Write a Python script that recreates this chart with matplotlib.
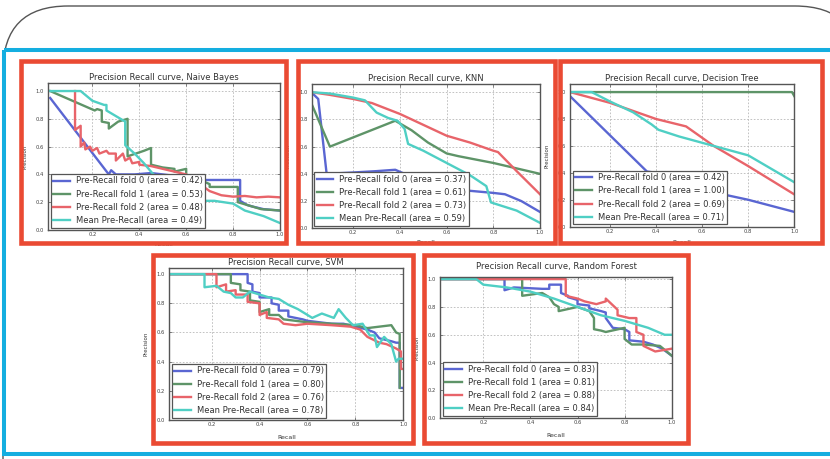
import matplotlib
matplotlib.use('Agg')
import matplotlib.pyplot as plt
from matplotlib.patches import Rectangle, FancyBboxPatch
from matplotlib.transforms import Affine2D

# ---- data (recall, precision) ----
nb_r0 = [0.02, 0.27, 0.28, 0.30, 0.38, 0.45, 0.55, 0.62, 0.67, 0.83, 0.83, 0.86, 0.88, 0.93, 1.00]
nb_p0 = [0.95, 0.40, 0.43, 0.40, 0.40, 0.41, 0.39, 0.37, 0.36, 0.36, 0.21, 0.18, 0.17, 0.15, 0.14]
nb_r1 = [0.02, 0.21, 0.22, 0.24, 0.24, 0.27, 0.27, 0.31, 0.35, 0.35, 0.42, 0.45, 0.45, 0.50, 0.55, 0.55,
         0.60, 0.60, 0.66, 0.70, 0.70, 0.82, 0.82, 0.88, 0.92, 1.00]
nb_p1 = [1.00, 0.86, 0.87, 0.86, 0.78, 0.77, 0.73, 0.78, 0.80, 0.53, 0.57, 0.59, 0.47, 0.45, 0.44, 0.42,
         0.44, 0.38, 0.36, 0.33, 0.31, 0.31, 0.20, 0.17, 0.15, 0.14]
nb_r2 = [0.126, 0.126, 0.15, 0.15, 0.165, 0.17, 0.19, 0.20, 0.22, 0.23, 0.26, 0.27, 0.30, 0.30, 0.33, 0.34,
         0.36, 0.37, 0.40, 0.40, 0.45, 0.50, 0.55, 0.60, 0.65, 0.70, 0.75, 0.80, 0.85, 0.90, 0.95, 1.00]
nb_p2 = [1.00, 0.72, 0.75, 0.60, 0.63, 0.58, 0.60, 0.57, 0.59, 0.55, 0.57, 0.55, 0.55, 0.50, 0.55, 0.50,
         0.52, 0.48, 0.49, 0.47, 0.46, 0.44, 0.42, 0.40, 0.34, 0.28, 0.25, 0.24, 0.245, 0.235, 0.24, 0.235]
nb_rm = [0.02, 0.15, 0.20, 0.25, 0.26, 0.26, 0.32, 0.34, 0.34, 0.38, 0.42, 0.46, 0.55, 0.62, 0.68, 0.72,
         0.80, 0.85, 0.93, 1.00]
nb_pm = [1.00, 1.00, 0.93, 0.90, 0.90, 0.86, 0.80, 0.78, 0.61, 0.55, 0.48, 0.40, 0.33, 0.27, 0.21, 0.21,
         0.19, 0.14, 0.10, 0.05]

knn_r0 = [0.02, 0.05, 0.086, 0.20, 0.30, 0.38, 0.42, 0.50, 0.60, 0.67, 0.80, 0.85, 0.92, 1.00]
knn_p0 = [1.00, 0.95, 0.40, 0.41, 0.42, 0.43, 0.40, 0.35, 0.30, 0.28, 0.26, 0.25, 0.20, 0.12]
knn_r1 = [0.02, 0.10, 0.38, 0.45, 0.52, 0.60, 0.65, 0.80, 1.00]
knn_p1 = [0.92, 0.60, 0.79, 0.72, 0.63, 0.55, 0.53, 0.48, 0.40]
knn_r2 = [0.02, 0.10, 0.20, 0.28, 0.40, 0.50, 0.60, 0.70, 0.80, 0.82, 0.90, 1.00]
knn_p2 = [1.00, 0.98, 0.95, 0.92, 0.84, 0.76, 0.68, 0.63, 0.57, 0.56, 0.42, 0.25]
knn_rm = [0.02, 0.10, 0.20, 0.25, 0.30, 0.35, 0.39, 0.42, 0.435, 0.50, 0.60, 0.70, 0.77, 0.79, 0.90, 1.00]
knn_pm = [1.00, 0.99, 0.96, 0.94, 0.85, 0.81, 0.79, 0.73, 0.62, 0.57, 0.48, 0.39, 0.31, 0.19, 0.13, 0.04]

dt_r0 = [0.026, 0.36, 0.40, 0.61, 0.80, 1.00]
dt_p0 = [0.97, 0.41, 0.40, 0.27, 0.20, 0.11]
dt_r1 = [0.026, 0.99, 1.00]
dt_p1 = [1.00, 1.00, 0.97]
dt_r2 = [0.026, 0.20, 0.40, 0.53, 0.65, 0.80, 1.00]
dt_p2 = [1.00, 0.92, 0.80, 0.745, 0.60, 0.45, 0.24]
dt_rm = [0.026, 0.12, 0.20, 0.30, 0.38, 0.41, 0.50, 0.65, 0.80, 1.00]
dt_pm = [1.00, 1.00, 0.93, 0.85, 0.76, 0.72, 0.67, 0.60, 0.53, 0.33]

svm_r0 = [0.02, 0.35, 0.35, 0.37, 0.37, 0.40, 0.40, 0.45, 0.45, 0.48, 0.48, 0.52, 0.52, 0.58, 0.60, 0.65,
          0.70, 0.75, 0.80, 0.85, 0.88, 0.90, 0.95, 0.97, 0.985, 0.985, 1.00]
svm_p0 = [1.00, 1.00, 0.94, 0.93, 0.88, 0.87, 0.84, 0.84, 0.80, 0.79, 0.75, 0.75, 0.71, 0.69, 0.68, 0.67,
          0.66, 0.66, 0.64, 0.62, 0.60, 0.56, 0.54, 0.53, 0.53, 0.22, 0.22]
svm_r1 = [0.02, 0.28, 0.28, 0.32, 0.32, 0.36, 0.36, 0.40, 0.40, 0.44, 0.44, 0.48, 0.50, 0.55, 0.60, 0.70,
          0.80, 0.85, 0.90, 0.95, 0.97, 0.985, 0.985]
svm_p1 = [1.00, 1.00, 0.94, 0.93, 0.89, 0.88, 0.82, 0.81, 0.74, 0.76, 0.72, 0.72, 0.69, 0.68, 0.67, 0.66,
          0.65, 0.63, 0.64, 0.65, 0.60, 0.59, 0.22]
svm_r2 = [0.02, 0.22, 0.22, 0.26, 0.26, 0.30, 0.30, 0.35, 0.35, 0.40, 0.40, 0.43, 0.43, 0.48, 0.50, 0.55,
          0.60, 0.70, 0.78, 0.82, 0.85, 0.90, 0.93, 0.97, 0.99, 0.99, 1.00]
svm_p2 = [1.00, 1.00, 0.91, 0.93, 0.88, 0.89, 0.86, 0.86, 0.81, 0.80, 0.72, 0.74, 0.70, 0.69, 0.66, 0.65,
          0.66, 0.65, 0.64, 0.62, 0.57, 0.53, 0.52, 0.49, 0.47, 0.35, 0.35]
svm_rm = [0.02, 0.17, 0.17, 0.22, 0.25, 0.28, 0.30, 0.33, 0.36, 0.40, 0.44, 0.48, 0.52, 0.56, 0.62, 0.66,
          0.71, 0.73, 0.76, 0.79, 0.83, 0.86, 0.88, 0.89, 0.92, 0.95, 0.97, 0.98, 1.00]
svm_pm = [1.00, 1.00, 0.91, 0.92, 0.88, 0.87, 0.84, 0.84, 0.88, 0.86, 0.84, 0.83, 0.79, 0.76, 0.70, 0.73,
          0.70, 0.76, 0.70, 0.65, 0.66, 0.58, 0.58, 0.50, 0.57, 0.52, 0.40, 0.42, 0.42]

rf_r0 = [0.015, 0.29, 0.29, 0.33, 0.45, 0.48, 0.48, 0.53, 0.53, 0.56, 0.56, 0.60, 0.60, 0.65, 0.65, 0.70,
         0.72, 0.72, 0.75, 0.80, 0.82, 0.82, 0.88, 0.92, 0.96, 1.00]
rf_p0 = [1.00, 1.00, 0.92, 0.94, 0.93, 0.93, 0.96, 0.96, 0.90, 0.88, 0.87, 0.85, 0.82, 0.81, 0.79, 0.77,
         0.76, 0.72, 0.65, 0.64, 0.62, 0.56, 0.55, 0.53, 0.50, 0.45]
rf_r1 = [0.015, 0.365, 0.365, 0.45, 0.48, 0.50, 0.52, 0.52, 0.60, 0.65, 0.67, 0.67, 0.70, 0.72, 0.80, 0.80,
         0.83, 0.88, 0.95, 1.00]
rf_p1 = [1.00, 1.00, 0.88, 0.90, 0.87, 0.82, 0.80, 0.77, 0.80, 0.77, 0.72, 0.64, 0.63, 0.62, 0.65, 0.57,
         0.53, 0.53, 0.52, 0.45]
rf_r2 = [0.015, 0.55, 0.55, 0.60, 0.63, 0.68, 0.72, 0.72, 0.77, 0.77, 0.82, 0.85, 0.85, 0.88, 0.88, 0.93, 1.00]
rf_p2 = [1.00, 1.00, 0.88, 0.86, 0.84, 0.82, 0.84, 0.86, 0.78, 0.74, 0.72, 0.72, 0.62, 0.60, 0.52, 0.48, 0.50]
rf_rm = [0.015, 0.17, 0.20, 0.30, 0.40, 0.50, 0.60, 0.70, 0.80, 0.90, 0.97, 1.00]
rf_pm = [1.00, 1.00, 0.96, 0.94, 0.91, 0.86, 0.80, 0.74, 0.70, 0.65, 0.60, 0.60]

names = ['Naive Bayes', 'KNN', 'Decision Tree', 'SVM', 'Random Forest']
areas = [[0.42, 0.53, 0.48, 0.49],
         [0.37, 0.61, 0.73, 0.59],
         [0.42, 1.00, 0.69, 0.71],
         [0.79, 0.80, 0.76, 0.78],
         [0.83, 0.81, 0.88, 0.84]]
curves = [[(nb_r0, nb_p0), (nb_r1, nb_p1), (nb_r2, nb_p2), (nb_rm, nb_pm)],
          [(knn_r0, knn_p0), (knn_r1, knn_p1), (knn_r2, knn_p2), (knn_rm, knn_pm)],
          [(dt_r0, dt_p0), (dt_r1, dt_p1), (dt_r2, dt_p2), (dt_rm, dt_pm)],
          [(svm_r0, svm_p0), (svm_r1, svm_p1), (svm_r2, svm_p2), (svm_rm, svm_pm)],
          [(rf_r0, rf_p0), (rf_r1, rf_p1), (rf_r2, rf_p2), (rf_rm, rf_pm)]]
line_colors = ['#5a66d2', '#5e9468', '#e8646a', '#4fcfc4']

# ---- layout, in pixels from top left ----
W, H = 830, 459
fig = plt.figure(figsize=(8.3, 4.59), dpi=100)
fig.patch.set_facecolor('white')
px = Affine2D().scale(1.0 / W, -1.0 / H).translate(0, 1) + fig.transFigure

# axes boxes: left, top, right, bottom
ax_boxes = [(48.3, 82.7, 280, 230), (311.7, 84, 540, 228.3), (570, 84, 794.3, 226.7),
            (169.3, 268.3, 403.3, 420), (440, 277, 671.7, 418.3)]
x_lo = [0.012, 0.022, 0.026, 0.023, 0.016]
y_hi = [1.06, 1.06, 1.06, 1.04, 1.015]
title_pos = [(164, 77), (426, 79), (682, 79), (286, 263), (556, 267)]
xlab_off = [12, 12, 13, 15, 15]

for i in range(5):
    l, t, r, b = ax_boxes[i]
    ax = fig.add_axes([l / W, 1 - b / H, (r - l) / W, (b - t) / H])
    for k in range(4):
        if k < 3:
            lab = 'Pre-Recall fold %d (area = %.2f)' % (k, areas[i][k])
        else:
            lab = 'Mean Pre-Recall (area = %.2f)' % areas[i][k]
        ax.plot(curves[i][k][0], curves[i][k][1], color=line_colors[k], lw=1.7, label=lab)
    ax.set_xlim(x_lo[i], 1.0)
    ax.set_ylim(0, y_hi[i])
    ax.set_xticks([0.2, 0.4, 0.6, 0.8, 1.0])
    ax.set_yticks([0.0, 0.2, 0.4, 0.6, 0.8, 1.0])
    ax.grid(True, color='#b8b8b8', ls=(0, (2, 2)), lw=0.6)
    ax.tick_params(direction='in', length=2, width=0.5, labelsize=3.8, labelcolor='#444',
                   colors='#555', top=True, right=True)
    ax.tick_params(axis='x', pad=1.5)
    ax.tick_params(axis='y', pad=3.0)
    for s in ax.spines.values():
        s.set_color('#555')
        s.set_linewidth(1.0)
    ax.set_xlabel('Recall', fontsize=4.5, color='#333')
    ax.set_ylabel('Precision', fontsize=4.0, color='#333')
    ax.xaxis.set_label_coords(0.5, -float(xlab_off[i]) / (b - t))
    ax.yaxis.set_label_coords(-21.0 / (r - l), 0.5)
    leg = ax.legend(loc='lower left', fontsize=6.0, fancybox=False, edgecolor='#555', framealpha=1,
                    borderaxespad=0.3, handlelength=2.0, handletextpad=0.7, labelspacing=0.5,
                    borderpad=0.3)
    leg.get_frame().set_linewidth(0.9)
    for txt in leg.get_texts():
        txt.set_color('#333')
    tx, ty = title_pos[i]
    fig.text(tx / W, 1 - ty / H, 'Precision Recall curve, ' + names[i], fontsize=6.0,
             ha='center', va='center', color='#333')

# ---- frames drawn over the plots ----
fig.add_artist(FancyBboxPatch((3, 6), 857, 600, boxstyle='round,pad=0,rounding_size=65',
                              transform=px, fill=False, ec='#555', lw=1.0, zorder=8))
fig.add_artist(Rectangle((4, 50), 900, 403.5, transform=px, fill=False, ec='#14aee0',
                         lw=2.9, zorder=9))
red_boxes = [(20.5, 60.5, 286, 242.5), (298, 60.5, 555, 242.5), (559.5, 60.5, 822, 242.5),
             (153, 255, 412.5, 442.5), (424, 255, 688, 442.5)]
for (l, t, r, b) in red_boxes:
    fig.add_artist(Rectangle((l, t), r - l, b - t, transform=px, fill=False, ec='#ea4a33',
                             lw=3.3, zorder=10))

fig.savefig('out.png', dpi=100, facecolor='white')
